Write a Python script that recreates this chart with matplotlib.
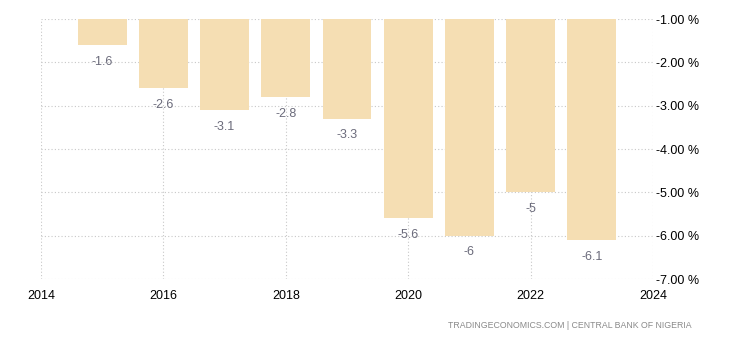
import matplotlib.pyplot as plt

plt.rcParams['font.family'] = ['Liberation Sans', 'DejaVu Sans']

# Budget balance (% of GDP), yearly
years = [2015, 2016, 2017, 2018, 2019, 2020, 2021, 2022, 2023]
values = [-1.6, -2.6, -3.1, -2.8, -3.3, -5.6, -6.0, -5.0, -6.1]
labels = ["-1.6", "-2.6", "-3.1", "-2.8", "-3.3", "-5.6", "-6", "-5", "-6.1"]
x_ticks = [2014, 2016, 2018, 2020, 2022, 2024]
y_ticks = [-1, -2, -3, -4, -5, -6, -7]

base = -1.0

fig = plt.figure(figsize=(7.3, 3.4), dpi=100)
ax = fig.add_axes([41 / 730, 61 / 340, 612 / 730, 260 / 340])

heights = [v - base for v in values]
ax.bar(years, heights, bottom=base, width=0.8, color="#f5deb3", zorder=2)

for x, v, t in zip(years, values, labels):
    ax.annotate(t, (x, v), xytext=(0, -12), textcoords="offset points",
                ha="center", va="center", fontsize=9, color="#6b6b7b", zorder=3)

ax.set_xlim(2014, 2024)
ax.set_ylim(-7, -1)
ax.set_xticks(x_ticks)
ax.set_yticks(y_ticks)
ax.set_yticklabels([f"{t:.2f} %" for t in y_ticks])
ax.yaxis.tick_right()
ax.tick_params(axis="both", length=0, labelsize=9, colors="black")
ax.tick_params(axis="y", pad=2)
ax.tick_params(axis="x", pad=8)

ax.grid(True, color="#c8c8c8", linestyle=(0, (1, 2)), linewidth=0.8, zorder=0)
for s in ax.spines.values():
    s.set_visible(False)

fig.text(692 / 730, 15 / 340, "TRADINGECONOMICS.COM | CENTRAL BANK OF NIGERIA",
         ha="right", va="center", fontsize=6.3, color="#8a8a8a")

fig.savefig("out.png", dpi=100)
